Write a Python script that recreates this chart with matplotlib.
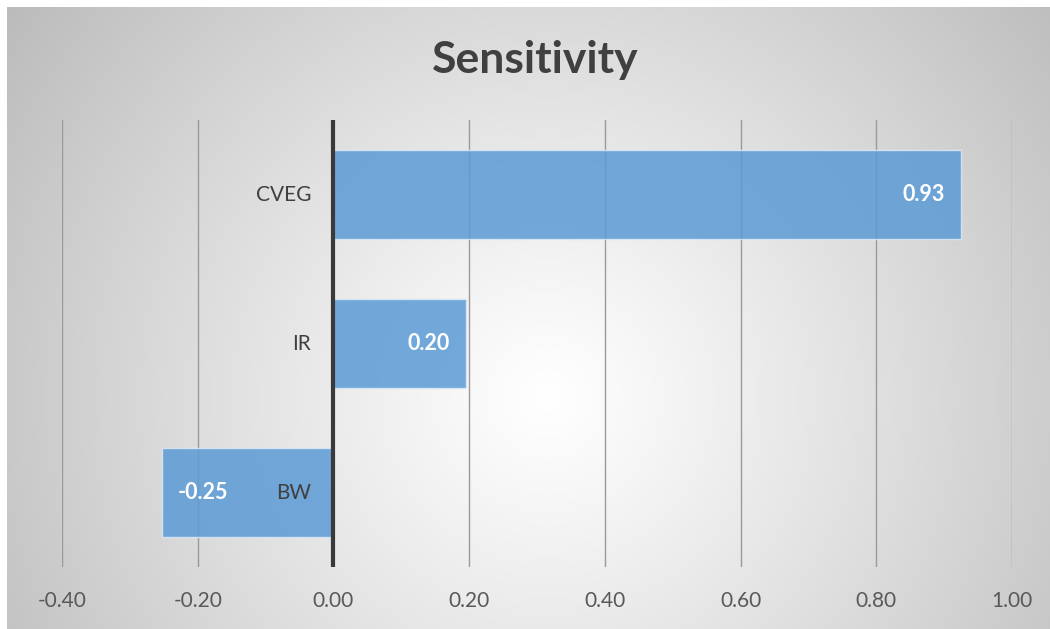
import numpy as np
import matplotlib
matplotlib.use("Agg")
import matplotlib.pyplot as plt

# ---- data ----
categories = ["CVEG", "IR", "BW"]
values = [0.925, 0.196, -0.252]
xtick_values = [-0.40, -0.20, 0.00, 0.20, 0.40, 0.60, 0.80, 1.00]
title = "Sensitivity"

W, H = 1050, 629
fig = plt.figure(figsize=(W / 100, H / 100), dpi=100)
fig.patch.set_facecolor("white")

# radial gradient background of the chart area
bg = fig.add_axes([7 / W, 0, 1 - 7 / W, 1 - 7 / H], zorder=0)
bw, bh = W - 7, H - 7
yy, xx = np.mgrid[0:bh, 0:bw]
cx, cy = 540, 390
r = np.sqrt((xx - cx) ** 2 + (yy - cy) ** 2)
r = r / np.sqrt(max(cx, bw - cx) ** 2 + max(cy, bh - cy) ** 2)
val = np.clip(255 - 68 * r ** 1.1, 0, 255) / 255.0
img = np.dstack([val, val, val])
bg.imshow(img, aspect="auto", extent=[0, 1, 0, 1], interpolation="bilinear")
bg.set_axis_off()

plt.rcParams["font.family"] = ["Lato", "DejaVu Sans"]

left, right = 62 / W, 1012 / W
top, bottom = 1 - 120 / H, 1 - 567 / H
ax = fig.add_axes([left, bottom, right - left, top - bottom], zorder=1)
ax.patch.set_alpha(0)

y = np.arange(len(categories))
ax.barh(y, values, height=0.6, color="#5B9BD5", alpha=0.85,
        edgecolor="#dce9f6", linewidth=1.0, zorder=3)

ax.set_xlim(-0.4, 1.0)
ax.set_ylim(len(categories) - 0.5, -0.5)
ax.set_xticks(xtick_values)
ax.set_xticklabels([f"{v:.2f}" for v in xtick_values], fontsize=15, color="#595959")
ax.set_yticks([])
ax.tick_params(axis="x", length=0, pad=17)
for s in ax.spines.values():
    s.set_visible(False)
ax.grid(axis="x", color="#9a9a9a", linewidth=1.0, zorder=1)
ax.axvline(0, color="#3a3a3a", linewidth=3.0, zorder=4)

# category labels next to zero line
for yi, c in zip(y, categories):
    ax.annotate(c, xy=(0, yi), xytext=(-16, 0), textcoords="offset points",
                ha="right", va="center", fontsize=15, color="#404040", zorder=5)

# value labels inside end
for yi, v in zip(y, values):
    if v >= 0:
        ax.annotate(f"{v:.2f}", xy=(v, yi), xytext=(-12, 0), textcoords="offset points",
                    ha="right", va="center", fontsize=15.5, fontweight="bold",
                    color="white", zorder=5)
    else:
        ax.annotate(f"{v:.2f}", xy=(v, yi), xytext=(11, 0), textcoords="offset points",
                    ha="left", va="center", fontsize=15.5, fontweight="bold",
                    color="white", zorder=5)

fig.text(535 / W, 1 - 60 / H, title, ha="center", va="center", fontsize=32,
         fontweight="bold", color="#404040", zorder=5)

fig.savefig("out.png", dpi=100)
